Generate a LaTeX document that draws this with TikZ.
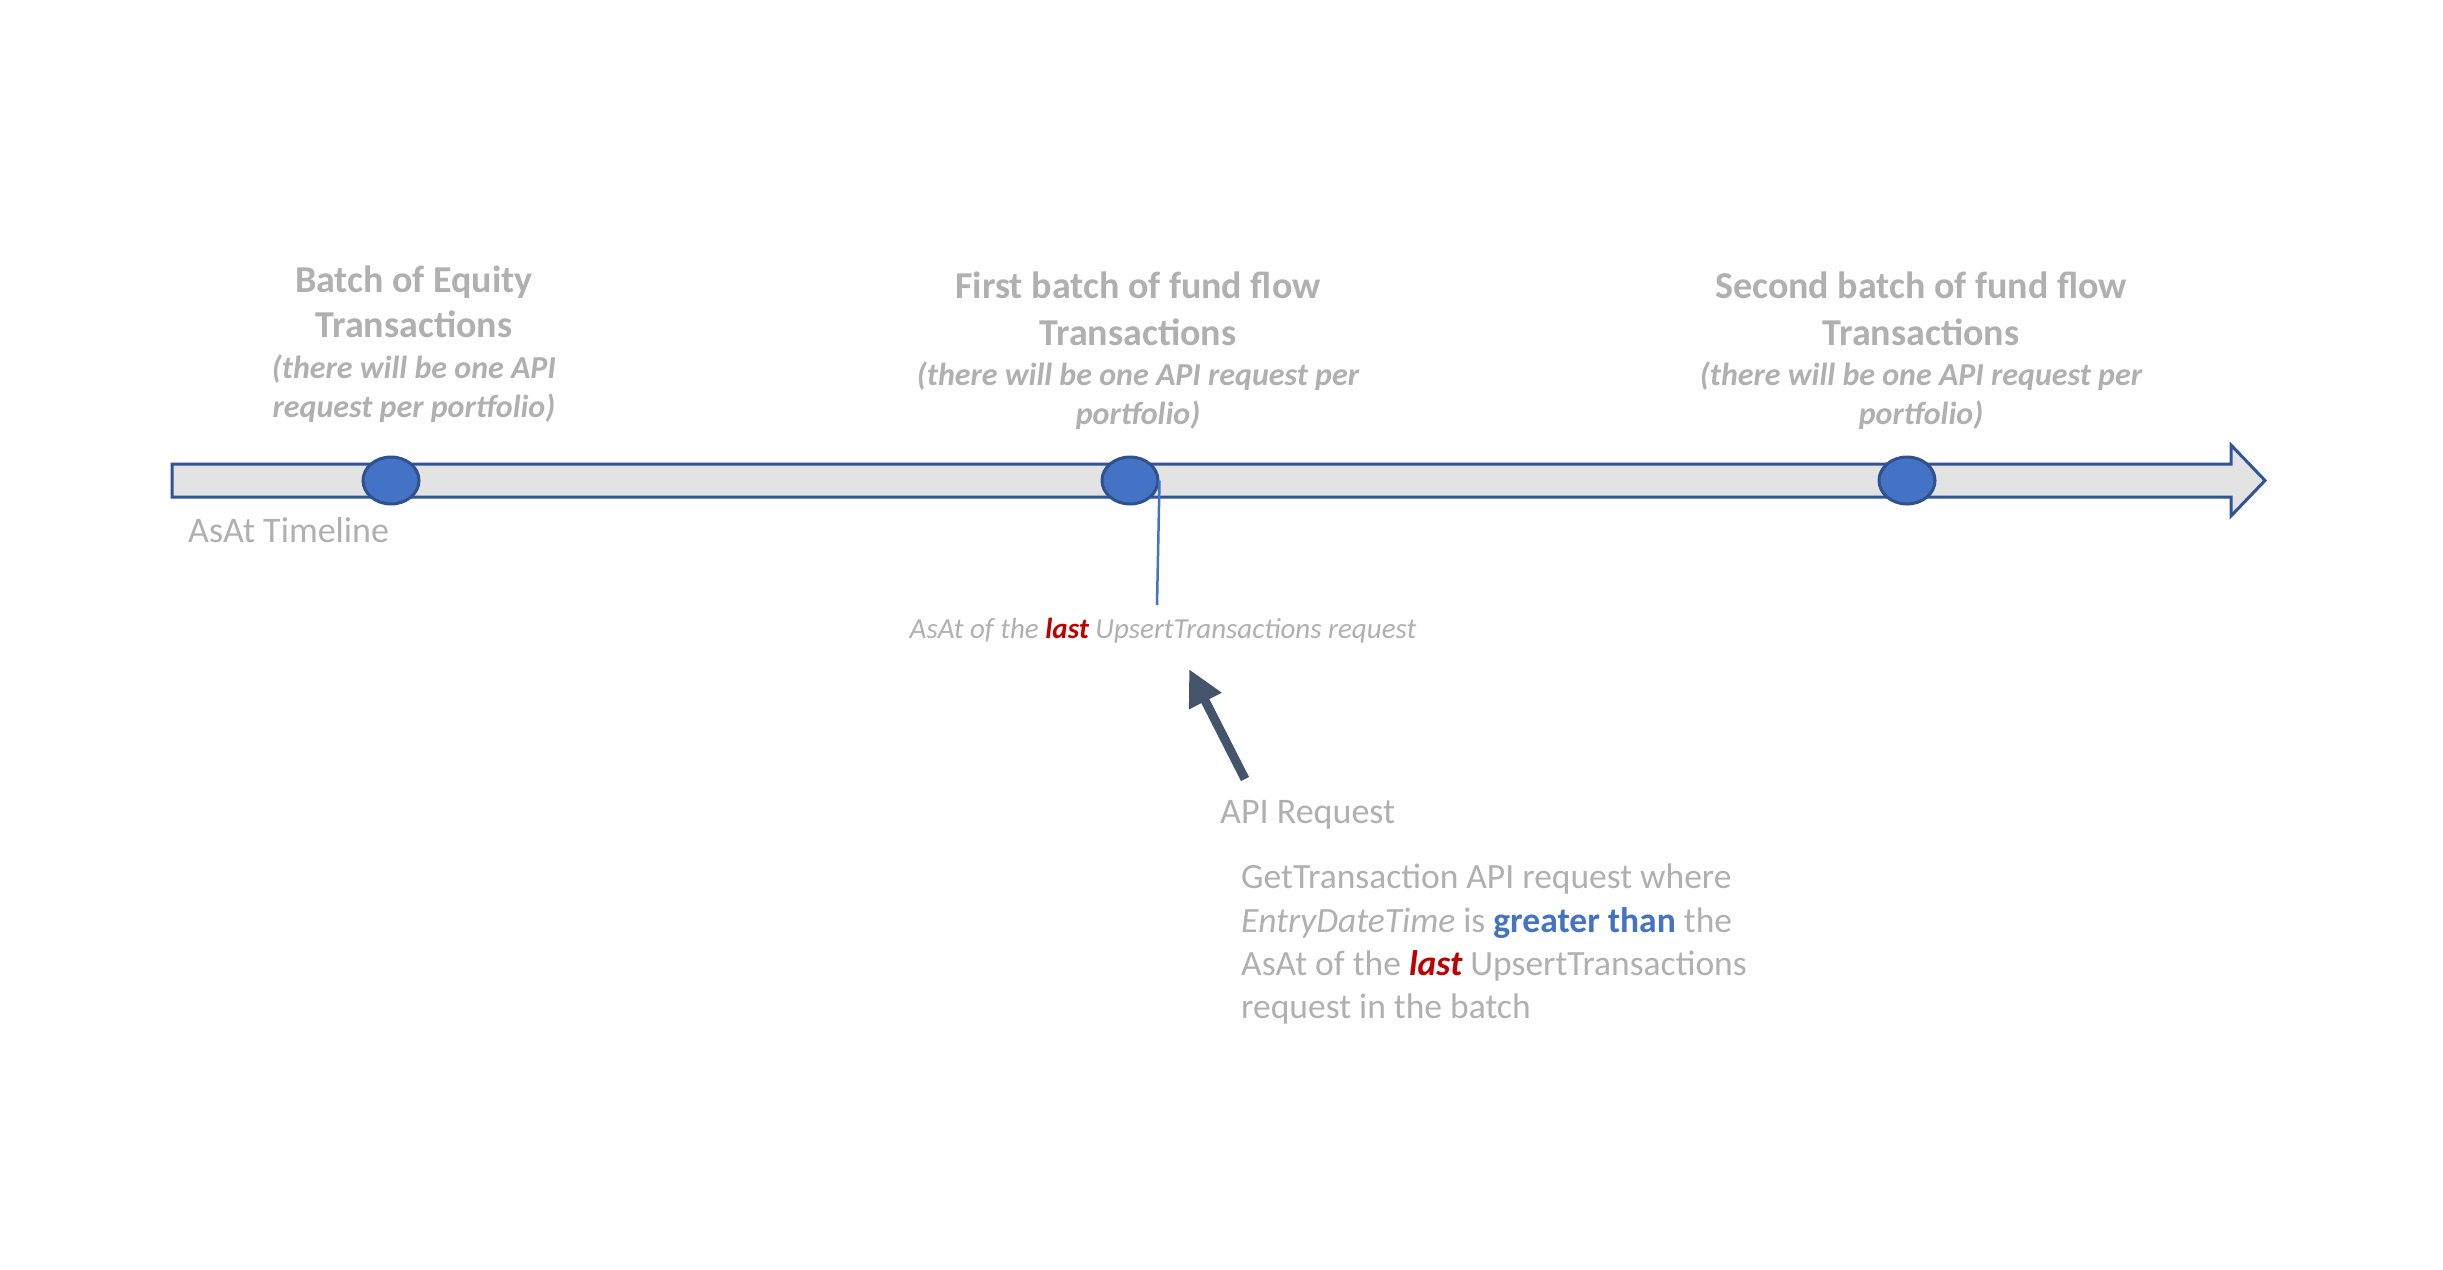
\documentclass[tikz,border=0pt]{standalone}
\usepackage{fontspec}
\setmainfont{Carlito}
\usetikzlibrary{arrows.meta,shapes.geometric}
\definecolor{txt}{HTML}{B0B0B0}
\definecolor{barfill}{HTML}{E4E3E3}
\definecolor{barline}{HTML}{2F5597}
\definecolor{dotfill}{HTML}{4472C4}
\definecolor{dotline}{HTML}{2F528F}
\definecolor{slate}{HTML}{44546A}
\definecolor{redlast}{HTML}{C00000}
\definecolor{bluegt}{HTML}{4472C4}
\begin{document}
\begin{tikzpicture}[x=1pt,y=-1pt,
  ttl/.style={font=\fontsize{38}{46}\selectfont\bfseries, text=txt, anchor=base, inner sep=0},
  sub/.style={font=\fontsize{32}{39}\selectfont\bfseries\itshape, text=txt, anchor=base, inner sep=0},
  body/.style={font=\fontsize{35.5}{43}\selectfont, text=txt, anchor=base west, inner sep=0},
  marker/.style={ellipse, minimum width=56, minimum height=47, inner sep=0, fill=dotfill, draw=dotline, line width=3},
  timebar/.style={fill=barfill, draw=barline, line width=3, line join=miter},
  lastw/.style={}]
\fill[white] (0,0) rectangle (2443,1269);
\useasboundingbox (0,0) rectangle (2443,1269);

% timeline arrow
\draw[timebar] (172,464) -- (2231,464) -- (2231,445) -- (2265,480.5) -- (2231,516) -- (2231,497) -- (172,497) -- cycle;

% markers
\node[marker] (m1) at (391,480.5) {};
\node[marker] (m2) at (1130,480.5) {};
\node[marker] (m3) at (1907,480.5) {};

% block 1
\node[ttl] (b1a) at (414,292) {Batch of Equity};
\node[ttl] (b1b) at (414,337) {Transactions};
\node[sub] (b1c) at (414,378) {(there will be one API};
\node[sub] (b1d) at (414,417) {request per portfolio)};

% block 2
\node[ttl] (b2a) at (1138,298) {First batch of fund flow};
\node[ttl] (b2b) at (1138,345) {Transactions};
\node[sub] (b2c) at (1138,385) {(there will be one API request per};
\node[sub] (b2d) at (1138,424) {portfolio)};

% block 3
\node[ttl] (b3a) at (1921,298) {Second batch of fund flow};
\node[ttl] (b3b) at (1921,345) {Transactions};
\node[sub] (b3c) at (1921,385) {(there will be one API request per};
\node[sub] (b3d) at (1921,424) {portfolio)};

% timeline label
\node[font=\fontsize{36}{43}\selectfont, text=txt, anchor=base west, inner sep=0] (tl) at (188,542) {AsAt Timeline};

% vertical marker line
\coordinate (vend) at (1157,605);
\draw[dotfill, line width=2.5] (m2.east) -- (vend);
\node[font=\fontsize{29}{35}\selectfont\itshape, text=txt, anchor=base, inner sep=0] (asat) at (1163,638)
  {AsAt of the {\bfseries\color{redlast}last} UpsertTransactions request};

% API request arrow
\coordinate (reqtail) at (1245,779);
\coordinate (reqtip) at (1189,669);
\draw[slate, line width=9, -{Triangle[length=36,width=34]}] (reqtail) -- (reqtip);

\node[font=\fontsize{36}{43}\selectfont, text=txt, anchor=base west, inner sep=0] (api) at (1220,823) {API Request};

% description
\node[body] (d1) at (1241,888) {GetTransaction API request where};
\node[body] (d2) at (1241,932) {\textit{EntryDateTime} is {\bfseries\color{bluegt}greater than} the};
\node[body] (d3) at (1241,975) {AsAt of the {\bfseries\itshape\color{redlast}last} UpsertTransactions};
\node[body] (d4) at (1241,1018) {request in the batch};
\end{tikzpicture}
\end{document}
